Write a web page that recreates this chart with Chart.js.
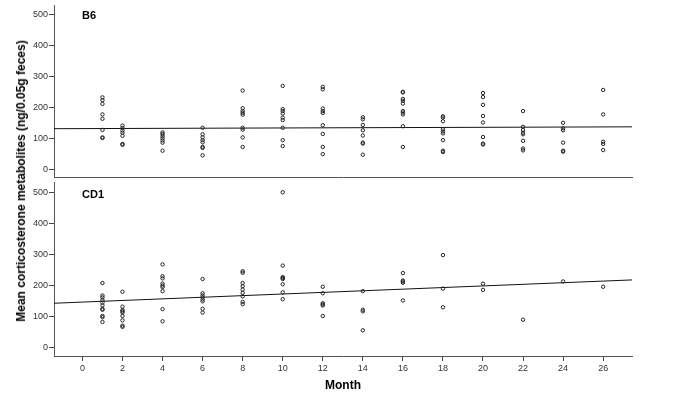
<!DOCTYPE html>
<html><head><meta charset="utf-8">
<script src="https://cdn.jsdelivr.net/npm/chart.js@4"></script>
<style>
html,body{margin:0;padding:0;background:#fff;}
#wrap{position:relative;width:685px;height:403px;overflow:hidden;font-family:"Liberation Sans",Arial,sans-serif;}
canvas{position:absolute;left:0;}
#c1{top:-5px;}
#c2{top:172px;}
.lab{position:absolute;font-weight:bold;font-size:11px;line-height:13px;color:#000;}
#ytitle{position:absolute;font-weight:bold;font-size:12px;line-height:14px;white-space:nowrap;left:21px;top:181px;transform:translate(-50%,-50%) rotate(-90deg);color:#000;}
</style></head>
<body><div id="wrap">
<canvas id="c1" width="685" height="192"></canvas>
<canvas id="c2" width="685" height="231"></canvas>
<div class="lab" style="left:82px;top:9px;">B6</div>
<div class="lab" style="left:82px;top:188px;">CD1</div>
<div id="ytitle">Mean corticosterone metabolites (ng/0.05g feces)</div>
</div>
<script>
const months = [1,2,4,6,8,10,12,14,16,18,20,22,24,26];
const monthTicks = [0,2,4,6,8,10,12,14,16,18,20,22,24,26];
const yTicks = [0,100,200,300,400,500];
const b6Values = [
 [232,223,211,177,163,127,103,101],
 [141,133,125,118,108,82,79],
 [119,114,107,100,93,86,60],
 [134,113,103,94,87,72,69,45],
 [254,197,188,182,176,134,128,103,72],
 [269,194,188,180,167,159,134,94,75],
 [266,258,196,188,182,142,114,72,49],
 [168,161,143,126,109,86,83,47],
 [250,248,227,221,212,188,183,177,139,72],
 [171,167,155,129,122,116,94,60,56],
 [246,233,208,172,151,104,83,80],
 [188,137,127,118,113,92,67,61],
 [150,132,126,86,60,57],
 [256,177,89,82,62]
];
const cd1Values = [
 [208,168,162,153,145,136,125,122,102,98,83],
 [180,132,121,117,113,102,88,71,67],
 [268,230,223,206,200,195,182,124,85],
 [221,175,168,162,155,149,125,113],
 [246,241,208,198,187,176,165,147,140],
 [500,264,227,224,221,204,178,156],
 [196,175,143,139,136,102],
 [182,122,117,56],
 [240,216,213,209,152],
 [298,190,130],
 [206,186],
 [90],
 [213],
 [196]
];
const fitRange = [-1.42, 27.44];
const b6Fit = [131, 137];
const cd1Fit = [143, 218];

Chart.defaults.font.family = '"Liberation Sans", Arial, sans-serif';

function panel(id, values, fit, yMin, yMax, showX) {
  const pts = [];
  months.forEach((m, i) => values[i].forEach(v => pts.push({x: m, y: v})));
  return new Chart(document.getElementById(id), {
    type: 'scatter',
    data: {datasets: [
      {data: pts, pointRadius: 1.7, pointBorderWidth: 1, borderColor: '#222', backgroundColor: 'rgba(0,0,0,0)', pointStyle: 'circle', order: 0},
      {data: [{x: fitRange[0], y: fit[0]}, {x: fitRange[1], y: fit[1]}], showLine: true, borderColor: '#111', borderWidth: 1, pointRadius: 0, order: 1}
    ]},
    options: {
      responsive: false, animation: false, events: [],
      layout: {padding: {top: 10, right: 53, bottom: showX ? 0 : 10, left: 0}},
      plugins: {legend: {display: false}, tooltip: {enabled: false}},
      scales: {
        x: {
          type: 'linear', min: fitRange[0], max: fitRange[1],
          afterBuildTicks: s => { s.ticks = monthTicks.map(v => ({value: v})); },
          afterFit: s => { s.height = showX ? 47 : 0; },
          grid: {display: showX, drawOnChartArea: false, tickLength: 5, color: '#444'},
          border: {display: true, color: '#555', width: 1},
          ticks: {display: showX, padding: 2, font: {size: 9}, color: '#333', maxRotation: 0, autoSkip: false},
          title: {display: showX, text: 'Month', font: {size: 12, weight: 'bold'}, color: '#000', padding: {top: 0, bottom: 10}}
        },
        y: {
          type: 'linear', min: yMin, max: yMax,
          afterBuildTicks: s => { s.ticks = yTicks.map(v => ({value: v})); },
          afterFit: s => { s.width = 54; },
          grid: {drawOnChartArea: false, tickLength: 5, color: '#444'},
          border: {display: true, color: '#555', width: 1},
          ticks: {padding: 1, font: {size: 9}, color: '#333'}
        }
      }
    }
  });
}
panel('c1', b6Values, b6Fit, -24.8, 530, false);
panel('c2', cd1Values, cd1Fit, -26.7, 533, true);
</script>
</body></html>
